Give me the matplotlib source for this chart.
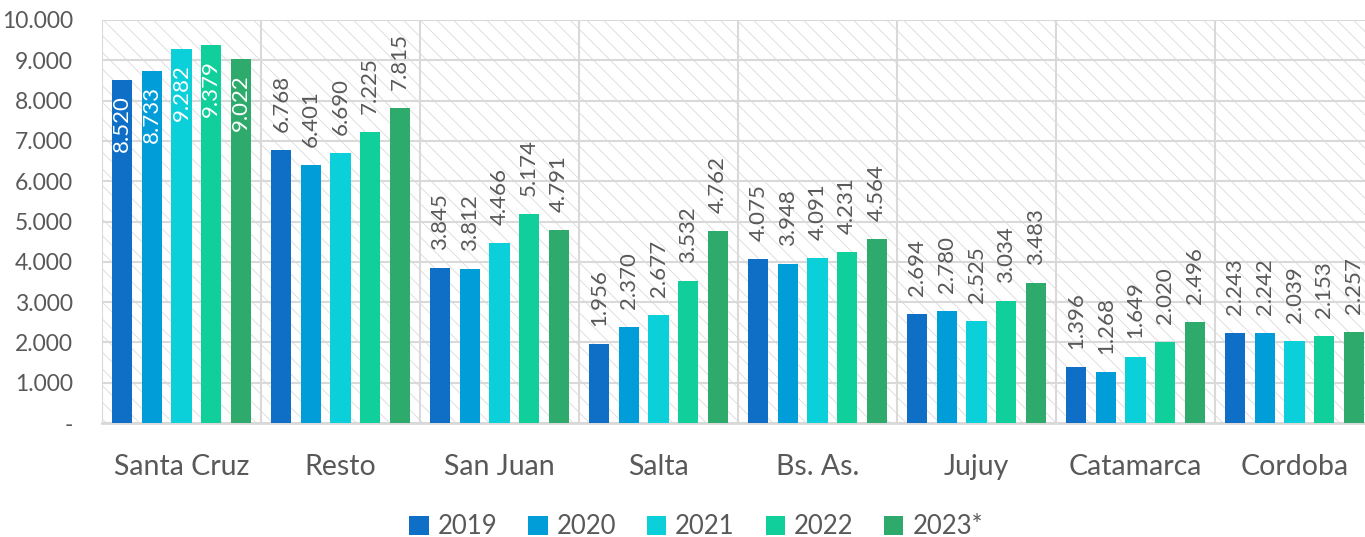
import matplotlib
matplotlib.use("Agg")
import matplotlib.pyplot as plt
import numpy as np
from matplotlib.ticker import FixedLocator, FuncFormatter

plt.rcParams['font.family'] = ['Lato', 'DejaVu Sans']
plt.rcParams['hatch.linewidth'] = 0.6

categories = ["Santa Cruz", "Resto", "San Juan", "Salta", "Bs. As.", "Jujuy", "Catamarca", "Cordoba"]
years = ["2019", "2020", "2021", "2022", "2023*"]
v2019 = [8520, 6768, 3845, 1956, 4075, 2694, 1396, 2243]
v2020 = [8733, 6401, 3812, 2370, 3948, 2780, 1268, 2242]
v2021 = [9282, 6690, 4466, 2677, 4091, 2525, 1649, 2039]
v2022 = [9379, 7225, 5174, 3532, 4231, 3034, 2020, 2153]
v2023 = [9022, 7815, 4791, 4762, 4564, 3483, 2496, 2257]
series = [v2019, v2020, v2021, v2022, v2023]
colors = ["#0F6FC6", "#009DD9", "#0BD0D9", "#10CF9B", "#2DAA6C"]
yticks = [0, 1000, 2000, 3000, 4000, 5000, 6000, 7000, 8000, 9000, 10000]

W, H = 1365, 537
fig = plt.figure(figsize=(W/100, H/100), dpi=100)
ax = fig.add_axes([102/W, (H-423)/H, 1 - 102/W, (423-20)/H])

ax.patch.set_facecolor("white")
ax.patch.set_hatch("\\\\")
ax.patch.set_edgecolor("#DADADA")
ax.patch.set_linewidth(0)

x = np.arange(len(categories))
step = 0.186
bw = 0.127
text_col = "#595959"
for i, (vals, col, yr) in enumerate(zip(series, colors, years)):
    xs = x + (i - 2) * step
    ax.bar(xs, vals, width=bw, color=col, label=yr, zorder=3)
    for j, (xx, v) in enumerate(zip(xs, vals)):
        lab = f"{v/1000:.3f}"
        if j == 0:
            ax.annotate(lab, (xx, v), xytext=(0, -11), textcoords="offset points",
                        rotation=90, ha="center", va="top", color="white",
                        fontsize=16, zorder=4)
        else:
            ax.annotate(lab, (xx, v), xytext=(0, 13), textcoords="offset points",
                        rotation=90, ha="center", va="bottom", color=text_col,
                        fontsize=16, zorder=4)

ax.set_ylim(0, 10000)
ax.set_xlim(-0.5, -0.5 + (W - 102) / 159)
ax.yaxis.set_major_locator(FixedLocator(yticks))
ax.yaxis.set_major_formatter(FuncFormatter(lambda v, p: "-" if v == 0 else f"{int(v)//1000}.000"))
ax.set_xticks(x)
ax.set_xticklabels(categories)
ax.xaxis.set_minor_locator(FixedLocator(np.arange(-0.5, 8.5, 1.0)))
ax.grid(axis="y", which="major", color="#D9D9D9", linewidth=1.5, zorder=1)
ax.grid(axis="x", which="minor", color="#D9D9D9", linewidth=1.5, zorder=1)
ax.set_axisbelow(True)
ax.tick_params(axis="both", which="both", length=0)
ax.tick_params(axis="y", labelsize=16.5, labelcolor=text_col, pad=21)
ax.tick_params(axis="x", labelsize=20.5, labelcolor=text_col, pad=22)
for s in ["top", "right", "left"]:
    ax.spines[s].set_visible(False)
ax.spines["bottom"].set_color("#D9D9D9")
ax.spines["bottom"].set_linewidth(2)

leg = fig.legend(loc="center", bbox_to_anchor=(0.51, (H-527)/H), ncol=5, frameon=False,
                 fontsize=18.5, labelcolor=text_col, handlelength=0.75, handleheight=0.75,
                 handletextpad=0.35, columnspacing=1.2)

fig.savefig("out.png", dpi=100)
